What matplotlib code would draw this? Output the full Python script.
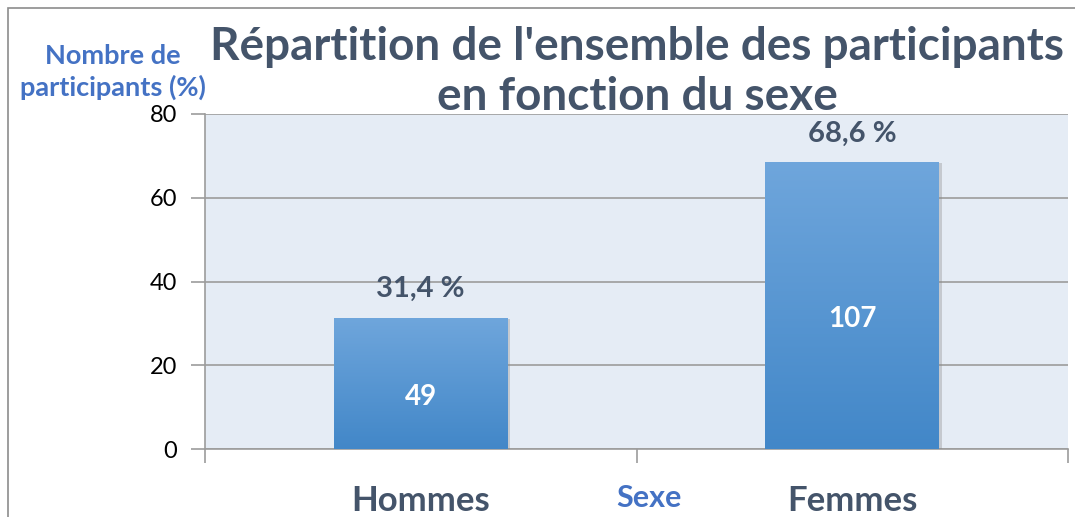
import matplotlib
matplotlib.use("Agg")
import matplotlib.pyplot as plt
import numpy as np
from matplotlib.patches import Rectangle
import matplotlib.patheffects as pe
from matplotlib.colors import LinearSegmentedColormap

categories = ["Hommes", "Femmes"]
percentages = [31.4, 68.6]
counts = [49, 107]
pct_labels = ["31,4 %", "68,6 %"]
yticks = [0, 20, 40, 60, 80]

plt.rcParams['font.family'] = ['Lato', 'DejaVu Sans']

W, H = 1075, 517
fig = plt.figure(figsize=(W / 100, H / 100), dpi=100)
ax = fig.add_axes([205 / W, 1 - 449 / H, (1068 - 205) / W, (449 - 114) / H])

slate = "#44546A"
blue = "#4472C4"

ax.set_facecolor("#E5ECF5")
x = np.arange(len(categories))
bars = ax.bar(x, percentages, width=0.403, color="#5396D6", zorder=3,
              path_effects=[pe.SimplePatchShadow(offset=(2, -1), shadow_rgbFace="#8a8a8a", alpha=0.35), pe.Normal()])

# gradient overlay on bars (light at top, darker at bottom)
grad = np.linspace(0, 1, 256).reshape(-1, 1)
cmap = LinearSegmentedColormap.from_list("g", ["#6FA6DC", "#4287C8"])
for b in bars:
    bx, by, bw, bh = b.get_x(), b.get_y(), b.get_width(), b.get_height()
    im = ax.imshow(grad, extent=[bx, bx + bw, by, by + bh], origin="upper",
                   aspect="auto", cmap=cmap, zorder=4)
    im.set_clip_path(b)

ax.set_xlim(-0.5, len(categories) - 0.5)
ax.set_ylim(0, 80)
ax.set_yticks(yticks)
ax.set_yticklabels([str(t) for t in yticks], fontsize=17, color="black")
ax.yaxis.grid(True, color="#9C9C9C", linewidth=1.2, zorder=1)
ax.set_axisbelow(True)

ax.set_xticks(x)
ax.set_xticklabels(categories, fontsize=25, fontweight="bold", color=slate)
ax.tick_params(axis="x", length=0, pad=26)
ax.set_xticks([-0.5, 0.5, 1.5], minor=True)
ax.tick_params(axis="x", which="minor", length=10, color="#9C9C9C", width=1.2)
ax.tick_params(axis="y", length=10, color="#9C9C9C", width=1.2, pad=10)

for s in ["top", "right"]:
    ax.spines[s].set_visible(False)
for s in ["left", "bottom"]:
    ax.spines[s].set_color("#9C9C9C")
    ax.spines[s].set_linewidth(1.2)

for b, p, c in zip(bars, pct_labels, counts):
    cx = b.get_x() + b.get_width() / 2
    ax.annotate(p, (cx, b.get_height()), xytext=(0, 11), textcoords="offset points",
                ha="center", va="bottom", fontsize=21, fontweight="bold", color=slate, zorder=6)
    ax.annotate(str(c), (cx, b.get_height() / 2), xytext=(0, -10), textcoords="offset points",
                ha="center", va="center", fontsize=20, fontweight="bold", color="white", zorder=6)

fig.text(637 / W, 1 - 72 / H, "Répartition de l'ensemble des participants\nen fonction du sexe",
         ha="center", va="center", fontsize=33, fontweight="bold", color=slate, linespacing=1.22)
fig.text(113 / W, 1 - 72 / H, "Nombre de\nparticipants (%)", ha="center", va="center",
         fontsize=19.5, fontweight="bold", color=blue, linespacing=1.3)
fig.text(649 / W, 1 - 498 / H, "Sexe", ha="center", va="center",
         fontsize=22, fontweight="bold", color=blue)

fig.patches.append(Rectangle((8 / W, -0.1), 1.2, 1 - 8 / H + 0.1, transform=fig.transFigure,
                             fill=False, edgecolor="#8C8C8C", linewidth=1.2))

fig.savefig("out.png", dpi=100)
